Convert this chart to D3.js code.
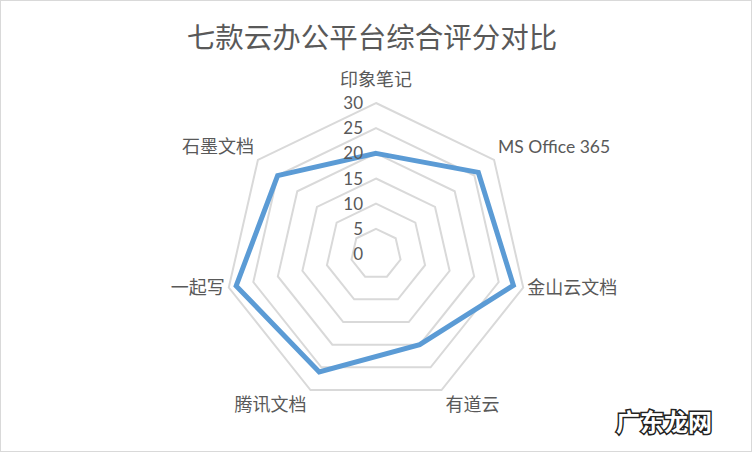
<!DOCTYPE html>
<html><head><meta charset="utf-8">
<script src="https://cdn.jsdelivr.net/npm/d3@7"></script>
<style>html,body{margin:0;padding:0;background:#fff;}svg{display:block;}</style>
</head><body>
<script>
const title = "七款云办公平台综合评分对比";
const categories = ["印象笔记","MS Office 365","金山云文档","有道云","腾讯文档","一起写","石墨文档"];
const scores = [20, 26, 28, 20, 26, 28.5, 25];
const tickValues = [0, 5, 10, 15, 20, 25, 30];

const W = 752, H = 452, cx = 376, cy = 254, R = 151;
const cjk = "'Noto Sans CJK SC','Microsoft YaHei',sans-serif";
const latin = "Lato,'Open Sans',sans-serif";

const svg = d3.select("body").append("svg").attr("width", W).attr("height", H);
svg.append("rect").attr("x",0.5).attr("y",0.5).attr("width",W-1).attr("height",H-1)
  .attr("fill","#fff").attr("stroke","#d9d9d9").attr("stroke-width",1);

svg.append("text").attr("x",372).attr("y",48).attr("text-anchor","middle")
  .attr("font-family",cjk).attr("font-size",28.5).attr("fill","#595959").text(title);

const r = d3.scaleLinear().domain([0,30]).range([0,R]);
const n = categories.length;
const ang = i => i * 2 * Math.PI / n;
const pt = (i, v) => [cx + r(v)*Math.sin(ang(i)), cy - r(v)*Math.cos(ang(i))];

const g = svg.append("g");
tickValues.forEach(t => {
  if (t === 0) return;
  g.append("polygon").attr("points", categories.map((c,i)=>pt(i,t).join(",")).join(" "))
    .attr("fill","none").attr("stroke","#d9d9d9").attr("stroke-width",2);
});

svg.append("path")
  .attr("d", d3.line().curve(d3.curveLinearClosed)(scores.map((v,i)=>pt(i,v))))
  .attr("fill","none").attr("stroke","#5b9bd5").attr("stroke-width",5).attr("stroke-linejoin","miter");

tickValues.forEach(t => {
  svg.append("text").attr("x",cx-13).attr("y",cy - r(t)).attr("dy","0.36em")
    .attr("text-anchor","end").attr("font-family",latin)
    .attr("font-size",17).attr("fill","#595959").text(t);
});

categories.forEach((c,i) => {
  const [vx, vy] = pt(i, 30);
  const s = Math.sin(ang(i)), co = Math.cos(ang(i));
  const anchor = s > 0.1 ? "start" : (s < -0.1 ? "end" : "middle");
  const dx = s > 0.1 ? 4 : (s < -0.1 ? -4 : 0);
  let dy;
  if (co > 0.9) dy = -23;
  else if (co > 0.3) dy = -13;
  else if (co > -0.5) dy = 0;
  else dy = 15;
  const isLatin = /^[A-Za-z]/.test(c);
  svg.append("text").attr("x", vx+dx).attr("y", vy+dy).attr("dy","0.35em")
    .attr("text-anchor", anchor)
    .attr("font-family", isLatin ? latin : cjk)
    .attr("font-size", isLatin ? 17.5 : 18).attr("fill","#595959").text(c);
});

// watermark
svg.append("text").attr("x",664).attr("y",431).attr("text-anchor","middle")
  .attr("font-family",cjk).attr("font-weight","bold").attr("font-size",24)
  .attr("fill","#fff").attr("stroke","#222").attr("stroke-width",3).attr("paint-order","stroke")
  .text("广东龙网");
</script>
</body></html>
